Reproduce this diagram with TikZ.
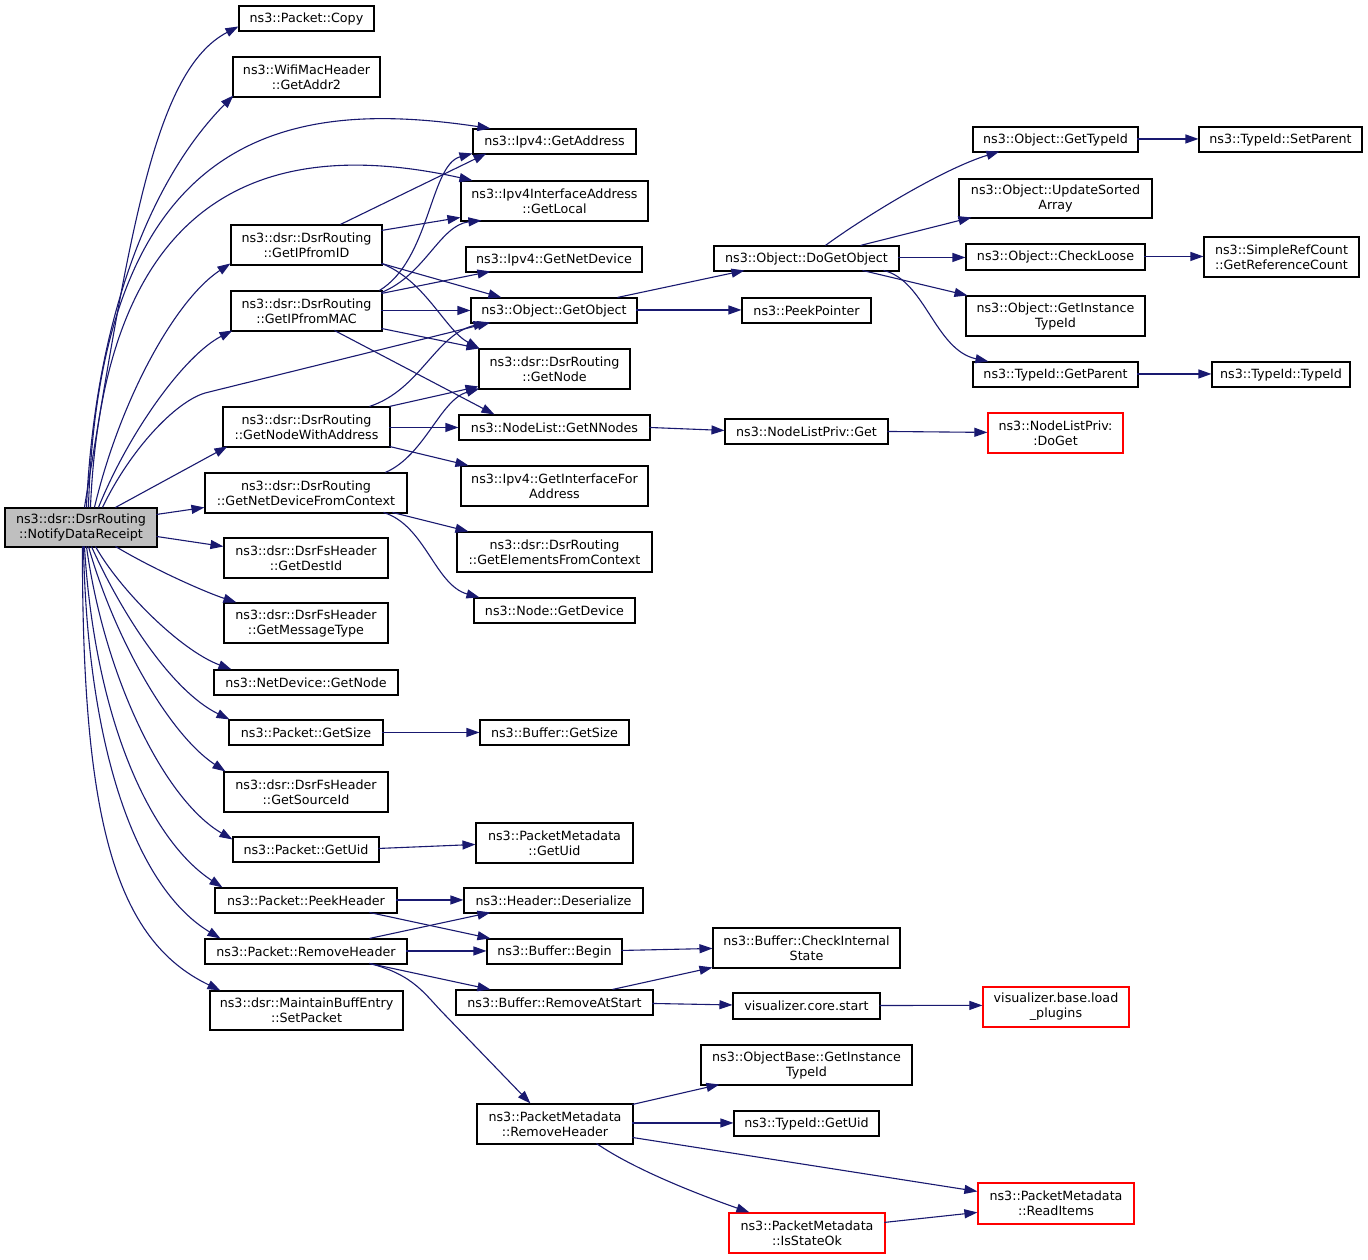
\documentclass[tikz,border=0pt]{standalone}
\usepackage{fontspec}
\setmainfont{DejaVu Sans}
\usetikzlibrary{arrows.meta,calc}
\definecolor{edgeblue}{RGB}{25,25,112}
\definecolor{maingray}{RGB}{191,191,191}
\newcommand\mknode[7][fnbox]{%
  \pgfmathsetmacro\mkw{#4-#2}%
  \pgfmathsetmacro\mkh{#5-#3}%
  \pgfmathsetmacro\mkx{(#2+#4)/2}%
  \pgfmathsetmacro\mky{(#3+#5)/2}%
  \node[#1, minimum width=\mkw pt, minimum height=\mkh pt] (#6) at (\mkx,\mky) {#7};}
\begin{document}
\begin{tikzpicture}[x=1pt,y=-1pt,
  fnbox/.style={draw=black, line width=1.1pt, fill=white, inner sep=0pt, align=center,
    font=\fontsize{12.7}{15}\selectfont, text=black},
  redfn/.style={fnbox, draw=red, line width=1.2pt},
  mainfn/.style={fnbox, fill=maingray},
  callarr/.style={draw=edgeblue, line width=1.1pt, -{Triangle[length=13pt,width=9pt]}}]
\fill[white] (0,0) rectangle (1368,1259);
\useasboundingbox (0,0) rectangle (1368,1259);

\mknode[mainfn]{5}{508}{157}{547}{main}{ns3::dsr::DsrRouting\\::NotifyDataReceipt}
\mknode{239}{6}{374}{31}{copy}{ns3::Packet::Copy}
\mknode{233}{57}{380}{97}{addr2}{ns3::WifiMacHeader\\::GetAddr2}
\mknode{473}{129}{636}{154}{getaddr}{ns3::Ipv4::GetAddress}
\mknode{461}{181}{648}{221}{getlocal}{ns3::Ipv4InterfaceAddress\\::GetLocal}
\mknode{231}{225}{382}{265}{ipfromid}{ns3::dsr::DsrRouting\\::GetIPfromID}
\mknode{466}{247}{642}{272}{getnetdev}{ns3::Ipv4::GetNetDevice}
\mknode{231}{291}{382}{331}{ipfrommac}{ns3::dsr::DsrRouting\\::GetIPfromMAC}
\mknode{471}{298}{637}{323}{getobject}{ns3::Object::GetObject}
\mknode{479}{349}{630}{389}{dsrgetnode}{ns3::dsr::DsrRouting\\::GetNode}
\mknode{223}{407}{390}{447}{nwa}{ns3::dsr::DsrRouting\\::GetNodeWithAddress}
\mknode{459}{415}{650}{440}{getnnodes}{ns3::NodeList::GetNNodes}
\mknode{461}{466}{648}{506}{ifaddr}{ns3::Ipv4::GetInterfaceFor\\Address}
\mknode{205}{473}{407}{513}{ndc}{ns3::dsr::DsrRouting\\::GetNetDeviceFromContext}
\mknode{457}{532}{652}{572}{elements}{ns3::dsr::DsrRouting\\::GetElementsFromContext}
\mknode{474}{598}{635}{623}{getdevice}{ns3::Node::GetDevice}
\mknode{224}{538}{388}{578}{destid}{ns3::dsr::DsrFsHeader\\::GetDestId}
\mknode{224}{603}{388}{643}{msgtype}{ns3::dsr::DsrFsHeader\\::GetMessageType}
\mknode{214}{670}{398}{695}{ndgetnode}{ns3::NetDevice::GetNode}
\mknode{229}{720}{383}{745}{pgetsize}{ns3::Packet::GetSize}
\mknode{480}{720}{629}{745}{bgetsize}{ns3::Buffer::GetSize}
\mknode{224}{772}{388}{812}{sourceid}{ns3::dsr::DsrFsHeader\\::GetSourceId}
\mknode{233}{837}{379}{862}{pgetuid}{ns3::Packet::GetUid}
\mknode{476}{823}{633}{863}{pmgetuid}{ns3::PacketMetadata\\::GetUid}
\mknode{215}{888}{397}{913}{peek}{ns3::Packet::PeekHeader}
\mknode{464}{888}{643}{913}{deser}{ns3::Header::Deserialize}
\mknode{205}{939}{407}{964}{removehdr}{ns3::Packet::RemoveHeader}
\mknode{487}{939}{622}{964}{bbegin}{ns3::Buffer::Begin}
\mknode{713}{928}{900}{968}{checkint}{ns3::Buffer::CheckInternal\\State}
\mknode{210}{991}{403}{1030}{setpacket}{ns3::dsr::MaintainBuffEntry\\::SetPacket}
\mknode{456}{990}{653}{1015}{removeatstart}{ns3::Buffer::RemoveAtStart}
\mknode{733}{993}{880}{1019}{corestart}{visualizer.core.start}
\mknode[redfn]{983}{987}{1129}{1027}{loadplugins}{visualizer.base.load\\\_plugins}
\mknode{701}{1045}{912}{1085}{objbaseinst}{ns3::ObjectBase::GetInstance\\TypeId}
\mknode{477}{1104}{633}{1144}{pmremovehdr}{ns3::PacketMetadata\\::RemoveHeader}
\mknode{734}{1111}{879}{1136}{typeidgetuid}{ns3::TypeId::GetUid}
\mknode[redfn]{978}{1183}{1134}{1224}{readitems}{ns3::PacketMetadata\\::ReadItems}
\mknode[redfn]{729}{1213}{885}{1253}{isstateok}{ns3::PacketMetadata\\::IsStateOk}
\mknode{714}{246}{899}{271}{dogetobject}{ns3::Object::DoGetObject}
\mknode{742}{298}{871}{323}{peekpointer}{ns3::PeekPointer}
\mknode{725}{419}{888}{444}{nlpget}{ns3::NodeListPriv::Get}
\mknode[redfn]{988}{413}{1123}{453}{doget}{ns3::NodeListPriv:\\:DoGet}
\mknode{973}{127}{1138}{152}{gettypeid}{ns3::Object::GetTypeId}
\mknode{1199}{127}{1362}{152}{setparent}{ns3::TypeId::SetParent}
\mknode{959}{179}{1152}{218}{updatesorted}{ns3::Object::UpdateSorted\\Array}
\mknode{966}{244}{1145}{270}{checkloose}{ns3::Object::CheckLoose}
\mknode{1204}{237}{1359}{277}{refcount}{ns3::SimpleRefCount\\::GetReferenceCount}
\mknode{966}{296}{1145}{336}{objinst}{ns3::Object::GetInstance\\TypeId}
\mknode{973}{362}{1138}{387}{getparent}{ns3::TypeId::GetParent}
\mknode{1212}{362}{1350}{387}{typeidtypeid}{ns3::TypeId::TypeId}

% edges from main
\draw[callarr] ($(main.north west)+(80,0)$) .. controls (130,230) and (155,70) .. ($(copy.north west)+(0,21)$);
\draw[callarr] ($(main.north west)+(82,0)$) .. controls (95,320) and (150,180) .. ($(addr2.north west)+(1,39)$);
\draw[callarr] ($(main.north west)+(84,0)$) .. controls (100,120) and (300,100) .. ($(getaddr.north west)+(18,0)$);
\draw[callarr] ($(main.north west)+(86,0)$) .. controls (105,170) and (290,140) .. ($(getlocal.north west)+(12,0)$);
\draw[callarr] ($(main.north west)+(90,0)$) .. controls (120,400) and (175,300) .. ($(ipfromid.north west)+(0,39)$);
\draw[callarr] ($(main.north west)+(94,0)$) .. controls (130,430) and (185,355) .. ($(ipfrommac.north west)+(2,40)$);
\draw[callarr] ($(main.north west)+(98,0)$) .. controls (130,450) and (175,402) .. (205,393) -- ($(getobject.north west)+(20,25)$);
\draw[callarr] ($(main.north west)+(111,0)$) -- ($(nwa.north west)+(5,40)$);
\draw[callarr] ($(main.north west)+(152,7)$) -- ($(ndc.north west)+(0,35)$);
\draw[callarr] ($(main.north west)+(152,29)$) -- ($(destid.north west)+(0,9)$);
\draw[callarr] ($(main.north west)+(111,39)$) .. controls (155,570) and (205,592) .. ($(msgtype.north west)+(13,0)$);
\draw[callarr] ($(main.north west)+(91,39)$) .. controls (120,590) and (180,650) .. ($(ndgetnode.north west)+(18,0)$);
\draw[callarr] ($(main.north west)+(87,39)$) .. controls (120,610) and (170,690) .. ($(pgetsize.north west)+(1,0)$);
\draw[callarr] ($(main.north west)+(84,39)$) .. controls (115,640) and (170,735) .. ($(sourceid.north west)+(2,0)$);
\draw[callarr] ($(main.north west)+(82,39)$) .. controls (105,680) and (165,800) .. ($(pgetuid.north west)+(0,3)$);
\draw[callarr] ($(main.north west)+(80,39)$) .. controls (95,720) and (150,840) .. ($(peek.north west)+(8,0)$);
\draw[callarr] ($(main.north west)+(79,39)$) .. controls (88,760) and (140,890) .. ($(removehdr.north west)+(16,0)$);
\draw[callarr] ($(main.north west)+(78,39)$) .. controls (82,820) and (115,940) .. ($(setpacket.north west)+(11,0)$);

% GetIPfromID
\draw[callarr] ($(ipfromid.north west)+(110,0)$) -- ($(getaddr.north west)+(14,25)$);
\draw[callarr] ($(ipfromid.north west)+(151,6)$) -- ($(getlocal.north west)+(0,37)$);
\draw[callarr] ($(ipfromid.north west)+(151,39)$) -- ($(getobject.north west)+(31,0)$);
\draw[callarr] ($(ipfromid.north west)+(151,39)$) .. controls (425,280) and (445,330) .. ($(dsrgetnode.north west)+(1,0)$);
% GetIPfromMAC
\draw[callarr] ($(ipfrommac.north west)+(149,0)$) .. controls (430,260) and (430,165) .. ($(getaddr.north west)+(0,25)$);
\draw[callarr] ($(ipfrommac.north west)+(151,2)$) .. controls (425,275) and (440,225) .. ($(getlocal.north west)+(21,40)$);
\draw[callarr] ($(ipfrommac.north west)+(151,3)$) -- ($(getnetdev.north west)+(25,25)$);
\draw[callarr] ($(ipfrommac.north west)+(151,20)$) -- ($(getobject.north west)+(0,13)$);
\draw[callarr] ($(ipfrommac.north west)+(151,38)$) -- ($(dsrgetnode.north west)+(1,0)$);
\draw[callarr] ($(ipfrommac.north west)+(104,40)$) -- ($(getnnodes.north west)+(36,0)$);
% GetNodeWithAddress
\draw[callarr] ($(nwa.north west)+(147,0)$) .. controls (420,390) and (435,335) .. ($(getobject.north west)+(16,25)$);
\draw[callarr] ($(nwa.north west)+(167,0)$) -- ($(dsrgetnode.north west)+(0,38)$);
\draw[callarr] ($(nwa.north west)+(167,21)$) -- ($(getnnodes.north west)+(0,13)$);
\draw[callarr] ($(nwa.north west)+(167,40)$) -- ($(ifaddr.north west)+(8,0)$);
% GetNetDeviceFromContext
\draw[callarr] ($(ndc.north west)+(181,0)$) .. controls (425,455) and (440,400) .. ($(dsrgetnode.north west)+(1,40)$);
\draw[callarr] ($(ndc.north west)+(188,40)$) -- ($(elements.north west)+(12,0)$);
\draw[callarr] ($(ndc.north west)+(179,40)$) .. controls (425,525) and (435,585) .. ($(getdevice.north west)+(6,0)$);
% packet functions
\draw[callarr] ($(pgetsize.north west)+(154,13)$) -- ($(bgetsize.north west)+(0,13)$);
\draw[callarr] ($(pgetuid.north west)+(146,12)$) -- ($(pmgetuid.north west)+(0,22)$);
\draw[callarr] ($(peek.north west)+(182,12.5)$) -- ($(deser.north west)+(0,12.5)$);
\draw[callarr] ($(peek.north west)+(155,25)$) -- ($(bbegin.north west)+(4,0)$);
\draw[callarr] ($(removehdr.north west)+(165,0)$) -- ($(deser.north west)+(27,25)$);
\draw[callarr] ($(removehdr.north west)+(202,12.5)$) -- ($(bbegin.north west)+(0,12.5)$);
\draw[callarr] ($(removehdr.north west)+(165,25)$) -- ($(removeatstart.north west)+(35,0)$);
\draw[callarr] ($(removehdr.north west)+(165,25)$) .. controls (415,975) and (425,995) .. (446,1016) -- ($(pmremovehdr.north west)+(54,0)$);
\draw[callarr] ($(bbegin.north west)+(135,12)$) -- ($(checkint.north west)+(0,21)$);
\draw[callarr] ($(removeatstart.north west)+(157,0)$) -- ($(checkint.north west)+(0,40)$);
\draw[callarr] ($(removeatstart.north west)+(197,14)$) -- ($(corestart.north west)+(0,12.5)$);
\draw[callarr] ($(corestart.north west)+(147,13)$) -- ($(loadplugins.north west)+(0,19)$);
\draw[callarr] ($(pmremovehdr.north west)+(156,1)$) -- ($(objbaseinst.north west)+(19,40)$);
\draw[callarr] ($(pmremovehdr.north west)+(156,19.5)$) -- ($(typeidgetuid.north west)+(0,12.5)$);
\draw[callarr] ($(pmremovehdr.north west)+(156,34)$) -- ($(readitems.north west)+(0,9)$);
\draw[callarr] ($(pmremovehdr.north west)+(120,40)$) .. controls (635,1170) and (700,1195) .. ($(isstateok.north west)+(21,0)$);
\draw[callarr] ($(isstateok.north west)+(156,10)$) -- ($(readitems.north west)+(0,30)$);
% object functions
\draw[callarr] ($(getobject.north west)+(147,0)$) -- ($(dogetobject.north west)+(31,25)$);
\draw[callarr] ($(getobject.north west)+(166,12.5)$) -- ($(peekpointer.north west)+(0,12.5)$);
\draw[callarr] ($(dogetobject.north west)+(112,0)$) .. controls (860,220) and (940,170) .. ($(gettypeid.north west)+(27,25)$);
\draw[callarr] ($(dogetobject.north west)+(147,0)$) -- ($(updatesorted.north west)+(13,39)$);
\draw[callarr] ($(dogetobject.north west)+(185,12)$) -- ($(checkloose.north west)+(0,14)$);
\draw[callarr] ($(dogetobject.north west)+(149,25)$) -- ($(objinst.north west)+(2,0)$);
\draw[callarr] ($(dogetobject.north west)+(170,25)$) .. controls (925,280) and (935,350) .. ($(getparent.north west)+(16,0)$);
\draw[callarr] ($(gettypeid.north west)+(165,12.5)$) -- ($(setparent.north west)+(0,12.5)$);
\draw[callarr] ($(checkloose.north west)+(179,13)$) -- ($(refcount.north west)+(0,20)$);
\draw[callarr] ($(getparent.north west)+(165,12.5)$) -- ($(typeidtypeid.north west)+(0,12.5)$);
\draw[callarr] ($(getnnodes.north west)+(191,13)$) -- ($(nlpget.north west)+(0,12)$);
\draw[callarr] ($(nlpget.north west)+(163,13)$) -- ($(doget.north west)+(0,20)$);
\end{tikzpicture}
\end{document}
